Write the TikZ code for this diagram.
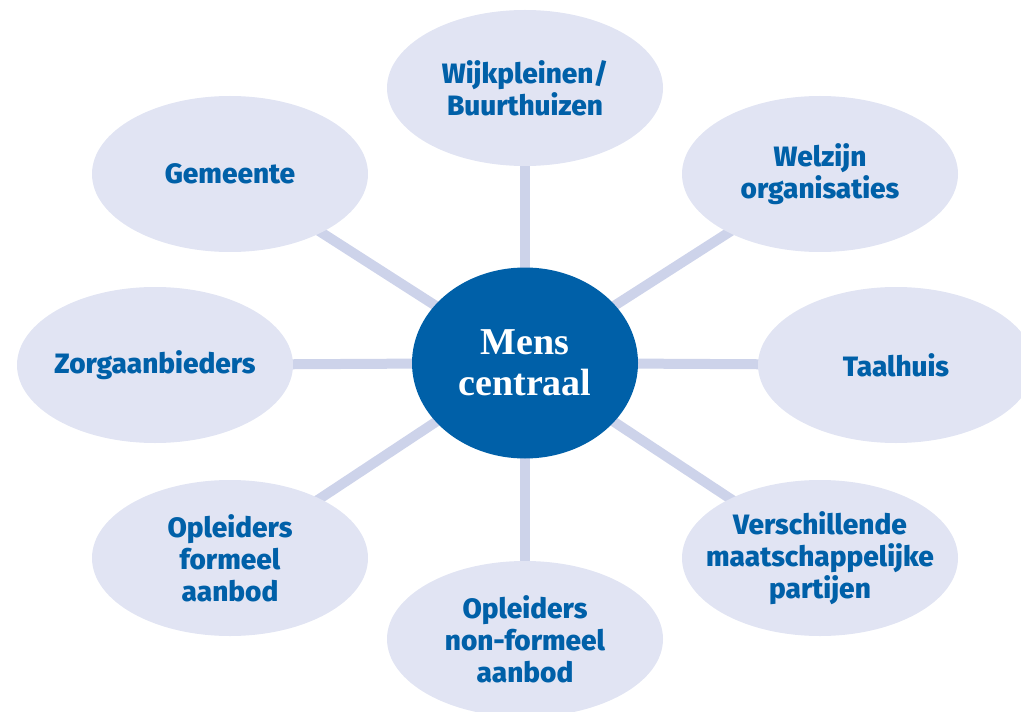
\documentclass[tikz,border=0pt]{standalone}
\usepackage{fontspec}
\setsansfont{Fira Sans}[BoldFont={Fira Sans ExtraBold}]
\newfontfamily\centerfont{Liberation Serif}
\usetikzlibrary{shapes.geometric,backgrounds}

\definecolor{darkblue}{HTML}{0060A8}
\definecolor{paleblue}{HTML}{E1E4F3}
\definecolor{linkblue}{HTML}{CDD3EA}

\tikzstyle{partner} = [ellipse, fill=paleblue, text=darkblue, align=center, inner xsep=-14pt, inner ysep=0pt, minimum width=138pt, minimum height=78pt, font=\sffamily\bfseries\fontsize{14}{16}\selectfont]
\tikzstyle{core} = [ellipse, fill=darkblue, text=white, align=center, inner sep=0pt, minimum width=113pt, minimum height=95.5pt, font=\centerfont\bfseries\fontsize{19}{20.5}\selectfont]
\tikzstyle{link} = [draw=linkblue, line width=5pt]

\begin{document}
\begin{tikzpicture}[x=0.5pt, y=-0.5pt]

	\clip (0,0) rectangle (1021,711);

	\node [core] (MC) at (525,363) {Mens\\centraal};

	\node [partner] (Wijk) at (525,88) {Wijkpleinen/\\Buurthuizen};
	\node [partner] (Welzijn) at (820,174) {Welzijn\\organisaties};
	\node [partner] (Gemeente) at (230,174) {Gemeente};
	\node [partner] (Zorg) at (155,365) {Zorgaanbieders};
	\node [partner] (Taal) at (896,365) {Taalhuis};
	\node [partner] (Formeel) at (230,558) {Opleiders\\formeel\\aanbod};
	\node [partner] (NonFormeel) at (525,639) {Opleiders\\non-formeel\\aanbod};
	\node [partner] (Partijen) at (820,558) {Verschillende\\maatschappelijke\\partijen};

	\begin{scope}[on background layer]
	\draw [link] (MC.center) -- (Wijk.center);
	\draw [link] (MC.center) -- (Welzijn.center);
	\draw [link] (MC.center) -- (Gemeente.center);
	\draw [link] (MC.center) -- (Zorg.center);
	\draw [link] (MC.center) -- (Taal.center);
	\draw [link] (MC.center) -- (Formeel.center);
	\draw [link] (MC.center) -- (NonFormeel.center);
	\draw [link] (MC.center) -- (Partijen.center);
	\end{scope}

\end{tikzpicture}
\end{document}
